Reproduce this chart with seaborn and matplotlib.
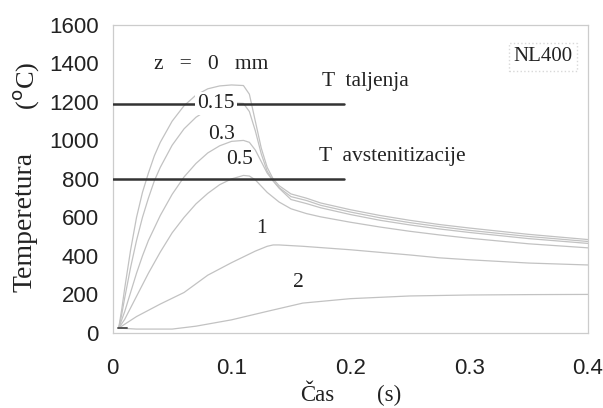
import numpy as np
import pandas as pd
import matplotlib
matplotlib.use("Agg")
import matplotlib.pyplot as plt
import seaborn as sns
from matplotlib.ticker import MultipleLocator

# ---- data ----
t_z0 = [0.005, 0.0075, 0.01, 0.015, 0.02, 0.025, 0.03, 0.035, 0.04, 0.05, 0.06, 0.07, 0.08, 0.09, 0.10, 0.11,
        0.115, 0.12, 0.125, 0.13, 0.135, 0.14, 0.15, 0.163, 0.175, 0.20, 0.225, 0.25, 0.275, 0.30, 0.35, 0.40]
T_z0 = [25, 120, 230, 430, 600, 730, 830, 920, 990, 1100, 1180, 1235, 1268, 1283, 1288, 1285,
        1240, 1100, 960, 860, 800, 765, 722, 700, 675, 640, 610, 585, 563, 545, 512, 485]

t_z015 = [0.005, 0.0075, 0.01, 0.015, 0.02, 0.025, 0.03, 0.035, 0.04, 0.05, 0.06, 0.07, 0.08, 0.09, 0.10, 0.11,
          0.115, 0.12, 0.125, 0.13, 0.135, 0.14, 0.15, 0.163, 0.175, 0.20, 0.225, 0.25, 0.275, 0.30, 0.35, 0.40]
T_z015 = [25, 95, 180, 340, 480, 600, 700, 790, 860, 975, 1060, 1120, 1160, 1185, 1195, 1192,
          1150, 1050, 930, 840, 790, 755, 708, 688, 663, 628, 598, 573, 552, 533, 501, 475]

t_z03 = [0.005, 0.01, 0.015, 0.02, 0.025, 0.03, 0.04, 0.05, 0.06, 0.07, 0.08, 0.09, 0.10, 0.11,
         0.115, 0.12, 0.125, 0.13, 0.135, 0.14, 0.15, 0.163, 0.175, 0.20, 0.225, 0.25, 0.275, 0.30, 0.35, 0.40]
T_z03 = [25, 110, 210, 310, 400, 480, 610, 720, 810, 880, 935, 972, 995, 1000,
         990, 950, 890, 830, 790, 752, 693, 672, 650, 615, 585, 561, 540, 522, 490, 465]

t_z05 = [0.005, 0.01, 0.015, 0.02, 0.03, 0.04, 0.05, 0.06, 0.07, 0.08, 0.09, 0.10, 0.11,
         0.115, 0.12, 0.13, 0.14, 0.15, 0.163, 0.175, 0.20, 0.225, 0.25, 0.275, 0.30, 0.35, 0.40]
T_z05 = [25, 70, 130, 190, 310, 420, 520, 600, 670, 725, 770, 800, 818,
         815, 795, 730, 680, 645, 620, 603, 575, 550, 528, 509, 492, 463, 442]

t_z1 = [0.005, 0.02, 0.04, 0.06, 0.08, 0.10, 0.12, 0.13, 0.135, 0.14, 0.16, 0.20, 0.25, 0.275, 0.30, 0.35, 0.40]
T_z1 = [25, 85, 150, 210, 300, 365, 425, 450, 457, 457, 450, 432, 405, 390, 380, 363, 353]

t_z2 = [0.005, 0.02, 0.05, 0.07, 0.10, 0.13, 0.16, 0.20, 0.25, 0.30, 0.35, 0.40]
T_z2 = [25, 20, 20, 35, 68, 112, 155, 178, 192, 197, 199, 200]

T_taljenja = 1190
T_avstenitizacije = 800
line_end = 0.195

x_ticks = [0, 0.1, 0.2, 0.3, 0.4]
x_ticklabels = ["0", "0.1", "0.2", "0.3", "0.4"]
y_ticks = [0, 200, 400, 600, 800, 1000, 1200, 1400, 1600]

series = [("0", t_z0, T_z0), ("0.15", t_z015, T_z015), ("0.3", t_z03, T_z03),
          ("0.5", t_z05, T_z05), ("1", t_z1, T_z1), ("2", t_z2, T_z2)]
df = pd.concat([pd.DataFrame({"t": t, "T": T, "z": z}) for z, t, T in series],
               ignore_index=True)

sns.set_theme(style="white")
plt.rcParams["font.family"] = ["Liberation Sans", "DejaVu Sans"]

fig = plt.figure(figsize=(6.03, 4.08), dpi=100)
ax = fig.add_axes([0.187, 0.184, 0.788, 0.755])

sns.lineplot(data=df, x="t", y="T", hue="z", palette=["#c2c2c2"] * 6,
             linewidth=0.9, legend=False, ax=ax, sort=False, estimator=None)

ax.plot([0, line_end], [T_taljenja, T_taljenja], color="#333333", lw=1.8, zorder=3)
ax.plot([0, line_end], [T_avstenitizacije, T_avstenitizacije], color="#333333", lw=1.8, zorder=3)
ax.plot([0.004, 0.012], [25, 25], color="#555555", lw=1.4, zorder=3)

ax.set_xlim(0, 0.4)
ax.set_ylim(0, 1600)
ax.set_xticks(x_ticks)
ax.set_xticklabels(x_ticklabels)
ax.set_yticks(y_ticks)
ax.xaxis.set_minor_locator(MultipleLocator(0.05))
ax.yaxis.set_minor_locator(MultipleLocator(100))
ax.tick_params(which="both", direction="in", color="#bbbbbb", length=4, width=0.8,
               labelsize=16, labelcolor="#222222")
ax.tick_params(axis="x", pad=18)
ax.tick_params(axis="y", pad=10)
ax.tick_params(which="minor", length=2.5)
for s in ax.spines.values():
    s.set_color("#cccccc")
    s.set_linewidth(0.9)
ax.set_xlabel("")
ax.set_ylabel("")

serif = dict(family=["Liberation Serif", "DejaVu Serif"], color="#222222")
fs = 15.5
ax.text(0.035, 1392, "z   =   0   mm", fontsize=fs, va="center", ha="left", **serif)
ax.text(0.176, 1304, "T  taljenja", fontsize=fs, va="center", ha="left", **serif)
ax.text(0.087, 1190, "0.15", fontsize=fs, va="center", ha="center",
        bbox=dict(facecolor="white", edgecolor="none", pad=1.5), zorder=4, **serif)
ax.text(0.092, 1029, "0.3", fontsize=fs, va="center", ha="center", **serif)
ax.text(0.107, 899, "0.5", fontsize=fs, va="center", ha="center", **serif)
ax.text(0.174, 914, "T  avstenitizacije", fontsize=fs, va="center", ha="left", **serif)
ax.text(0.125, 540, "1", fontsize=fs, va="center", ha="center", **serif)
ax.text(0.156, 262, "2", fontsize=fs, va="center", ha="center", **serif)
ax.text(0.362, 1434, "NL400", fontsize=15, va="center", ha="center",
        bbox=dict(facecolor="white", edgecolor="#d8d8d8", linestyle=":", pad=3), **serif)

fig.text(317 / 603, 1 - 401 / 408, "Čas", fontsize=16.5, ha="center", va="baseline", **serif)
fig.text(389 / 603, 1 - 401 / 408, "(s)", fontsize=16.5, ha="center", va="baseline", **serif)
fig.text(25 / 603, 1 - 222 / 408, "Temperetura", fontsize=20, rotation=90,
         ha="center", va="center", **serif)
fig.text(26 / 603, 1 - 86 / 408, "($^{\\mathrm{o}}$C)", fontsize=19, rotation=90,
         ha="center", va="center", **serif)

fig.savefig("out.png", dpi=100)
